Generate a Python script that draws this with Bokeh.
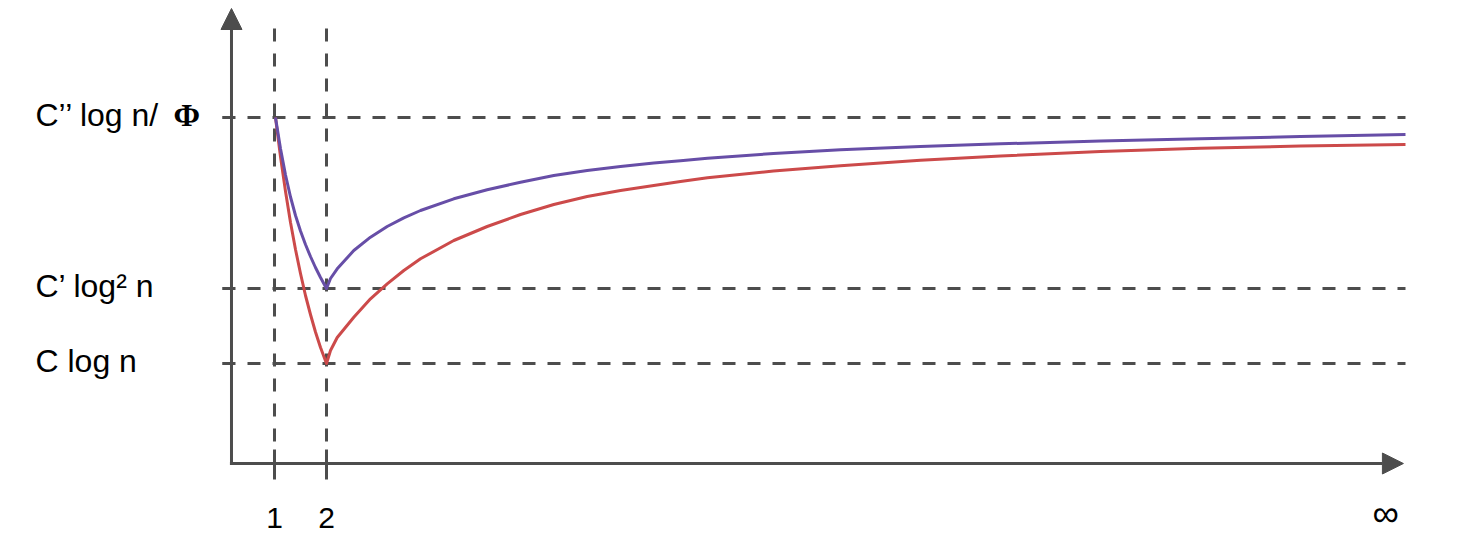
from bokeh.plotting import figure
from bokeh.models import Range1d, Arrow, NormalHead
from bokeh.core.properties import value
from bokeh.embed import file_html
from bokeh.resources import INLINE

# ---- data ----
level_values = [1.00, 1.75, 3.46]
level_labels = ["C log n", "C\u2019 log\u00b2 n", "C\u2019\u2019 log n/ "]
phi_label = "\u03a6"

x_ticks = [1, 2]
x_tick_labels = ["1", "2"]
inf_label = "\u221e"
inf_pos = 22.37

curve_x = [1.019, 1.115, 1.212, 1.308, 1.404, 1.5, 1.596, 1.692, 1.788, 1.885, 2.0,
           2.077, 2.206, 2.525, 2.846, 3.167, 3.487, 3.808, 4.448, 5.090, 5.731, 6.371,
           7.013, 7.654, 8.294, 8.808, 9.327, 10.596, 11.885, 13.423, 14.962,
           16.885, 18.808, 20.731, 22.75]

purple_y = [3.46, 3.15, 2.885, 2.665, 2.48, 2.325, 2.19, 2.07, 1.96, 1.86, 1.75,
            1.85, 1.947, 2.13, 2.263, 2.37, 2.457, 2.53, 2.647, 2.737, 2.813, 2.88,
            2.93, 2.97, 3.004, 3.028, 3.052, 3.10, 3.137, 3.17, 3.197,
            3.224, 3.247, 3.269, 3.29]

red_y = [3.46, 3.07, 2.72, 2.41, 2.14, 1.90, 1.68, 1.49, 1.315, 1.16, 1.00,
         1.13, 1.26, 1.463, 1.647, 1.797, 1.93, 2.047, 2.23, 2.37, 2.49, 2.59,
         2.67, 2.73, 2.78, 2.82, 2.858, 2.925, 2.978, 3.032, 3.076,
         3.12, 3.152, 3.174, 3.19]

# ---- styling / layout ----
GRAY = "#4d4d4d"
PURPLE = "#674ea7"
RED = "#cc4a4a"
X_MIN, X_MAX = -4.2692, 24.0
Y_MIN, Y_MAX = -0.73, 4.63
AXIS_X = 0.173
LINE_END = 22.75
ARROW_X_END = 22.71
ARROW_Y_END = 4.55
VDASH_TOP = 4.35
LABEL_X = -3.596
LABEL_DY = 0.03
PHI_X = -0.942
TICK_LABEL_Y = -0.54
INF_LABEL_Y = -0.50

p = figure(width=1470, height=536, x_range=Range1d(X_MIN, X_MAX), y_range=Range1d(Y_MIN, Y_MAX),
           output_backend="svg", toolbar_location=None, x_axis_location=None,
           y_axis_location=None, min_border=0)
p.grid.visible = False
p.outline_line_color = None

n = len(level_values)
# dashed horizontal levels
p.segment(x0=[0.0] * n, y0=level_values, x1=[LINE_END] * n, y1=level_values,
          line_color=GRAY, line_width=3, line_dash="13 12")
# y ticks
p.segment(x0=[0.0] * n, y0=level_values, x1=[AXIS_X] * n, y1=level_values,
          line_color=GRAY, line_width=3)
# dashed verticals
m = len(x_ticks)
p.segment(x0=x_ticks, y0=[VDASH_TOP] * m, x1=x_ticks, y1=[0.0] * m,
          line_color=GRAY, line_width=3, line_dash="13 12")
# x ticks
p.segment(x0=x_ticks, y0=[0.14] * m, x1=x_ticks, y1=[-0.16] * m,
          line_color=GRAY, line_width=3)

# curves
p.line(curve_x, red_y, line_color=RED, line_width=3, line_join="round")
p.line(curve_x, purple_y, line_color=PURPLE, line_width=3, line_join="round")

# axes with arrows
p.add_layout(Arrow(x_start=AXIS_X, y_start=-0.015, x_end=AXIS_X, y_end=ARROW_Y_END,
                   line_color=GRAY, line_width=3,
                   end=NormalHead(size=21, fill_color=GRAY, line_color=GRAY, line_width=1)))
p.add_layout(Arrow(x_start=AXIS_X - 0.03, y_start=0.0, x_end=ARROW_X_END, y_end=0.0,
                   line_color=GRAY, line_width=3,
                   end=NormalHead(size=21, fill_color=GRAY, line_color=GRAY, line_width=1)))

# labels
p.text(x=[LABEL_X] * n, y=[v + LABEL_DY for v in level_values], text=level_labels,
       text_font=value("Liberation Sans"), text_font_size="32px", text_baseline="middle",
       text_align="left", text_color="black")
p.text(x=[PHI_X], y=[level_values[2] + LABEL_DY], text=[phi_label],
       text_font=value("Liberation Serif"), text_font_style="bold", text_font_size="32px",
       text_baseline="middle", text_align="left", text_color="black")
p.text(x=x_ticks, y=[TICK_LABEL_Y] * m, text=x_tick_labels, text_font=value("Liberation Sans"),
       text_font_size="30px", text_baseline="middle", text_align="center", text_color="black")
p.text(x=[inf_pos], y=[INF_LABEL_Y], text=[inf_label], text_font=value("Liberation Sans"),
       text_font_size="37px", text_baseline="middle", text_align="center", text_color="black")

open("out.html", "w").write(file_html(p, INLINE))
